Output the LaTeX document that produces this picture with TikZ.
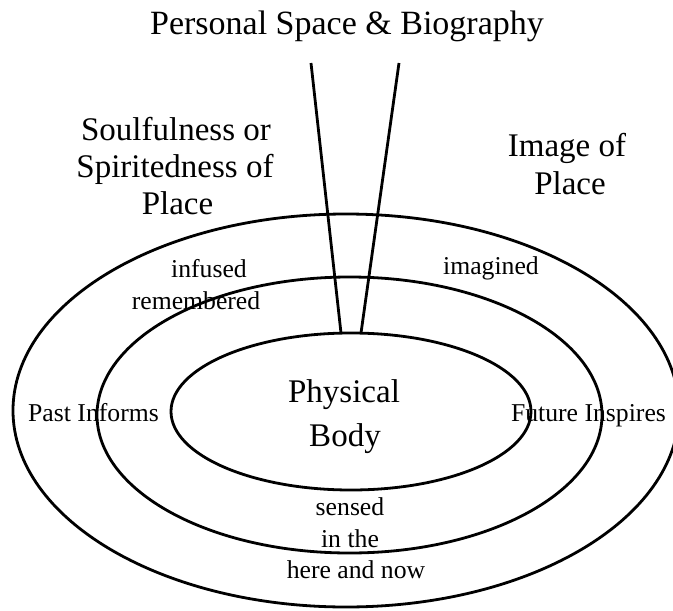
\documentclass[tikz,border=0pt]{standalone}
\usepackage{fontspec}
\setmainfont{Liberation Serif}
\usetikzlibrary{shapes.geometric}
\begin{document}
\begin{tikzpicture}[x=1pt,y=-1pt,
  ring/.style={draw, ellipse, line width=2.8pt, inner sep=0pt},
  big/.style={font=\fontsize{33}{38}\selectfont, anchor=base, inner sep=0pt},
  small/.style={font=\fontsize{25.7}{30}\selectfont, anchor=base, inner sep=0pt},
  spoke/.style={line width=2.8pt}]
\useasboundingbox (0,0) rectangle (673,611);
% rings
\node[ring, minimum width=666pt, minimum height=393pt] (outer) at (346,410.5) {};
\node[ring, minimum width=505pt, minimum height=276pt] (middle) at (349.5,415) {};
\node[ring, minimum width=360pt, minimum height=157pt] (inner) at (351,411.5) {};
% spokes
\coordinate (lt) at (311,63);
\coordinate (rt) at (399,63);
\coordinate (lb) at (341,333);
\coordinate (rb) at (361,333);
\draw[spoke] (lt) -- (lb);
\draw[spoke] (rt) -- (rb);
% labels
\node[big, font=\fontsize{34}{38}\selectfont] (title) at (347,34) {Personal Space \& Biography};
\node[big] (soul1) at (176,140) {Soulfulness or};
\node[big] (soul2) at (175,177) {Spiritedness of};
\node[big] (soul3) at (177.5,214) {Place};
\node[big] (img1) at (567,156) {Image of};
\node[big] (img2) at (570,194) {Place};
\node[small] (infused) at (209,277) {infused};
\node[small] (remembered) at (196,309) {remembered};
\node[small] (imagined) at (491,274) {imagined};
\node[small] (past) at (93.5,421.5) {Past Informs};
\node[small] (future) at (588.5,421) {Future Inspires};
\node[big] (phys) at (344,402) {Physical};
\node[big] (body) at (345,446) {Body};
\node[small] (sensed) at (350,515) {sensed};
\node[small] (inthe) at (350,547) {in the};
\node[small] (herenow) at (356,578) {here and now};
\end{tikzpicture}
\end{document}
